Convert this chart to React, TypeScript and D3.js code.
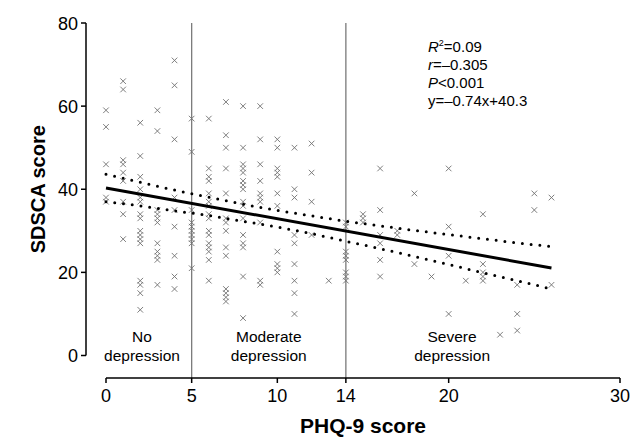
import React from "react";
import * as d3 from "d3";

const phqScores = [0, 1, 2, 3, 4, 5, 6, 7, 8, 9, 10, 11, 12, 13, 14, 15, 16, 17, 18, 19, 20, 21, 22, 23, 24, 25, 26];
const sdscaByPhq: number[][] = [
  [59, 55, 46, 38, 37],
  [66, 64, 47, 46, 44, 42, 37, 34, 28],
  [56, 48, 43, 40, 38, 37, 34, 33, 30, 29, 28, 27, 18, 17, 15, 11],
  [59, 54, 35, 34, 33, 32, 27, 25, 24, 23, 17],
  [71, 65, 52, 38, 35, 31, 24, 19, 16],
  [57, 49, 35, 32, 31, 30, 29, 28, 27, 21],
  [57, 45, 43, 42, 39, 37, 36, 34, 33, 30, 29, 27, 26, 25, 23, 18],
  [61, 53, 50, 45, 39, 33, 32, 30, 26, 24, 16, 15, 14, 13],
  [60, 50, 46, 45, 44, 42, 41, 40, 37, 36, 33, 29, 27, 26, 19, 9],
  [60, 52, 46, 42, 39, 38, 37, 32, 18, 17],
  [52, 50, 45, 44, 43, 39, 36, 25, 22, 21, 20],
  [50, 40, 38, 29, 27, 22, 18, 15, 10],
  [51, 44, 37, 29],
  [18],
  [32, 31, 25, 24, 23, 20, 19, 18],
  [34, 33, 32],
  [45, 35, 29, 27, 23, 19],
  [30, 29],
  [39, 22],
  [19],
  [45, 31, 24, 10],
  [18],
  [34, 22, 20, 19, 18],
  [5],
  [17, 10, 6],
  [39, 35],
  [38, 17],
];

// regression y = -0.74x + 40.3
const slope = -0.74;
const intercept = 40.3;
const fitRange = [0, 26];

// 95% confidence band
const ciX = [0, 2, 4, 6, 8, 10, 12, 14, 16, 18, 20, 22, 24, 26];
const ciUpper = [43.6, 41.7, 39.8, 38.1, 36.4, 34.9, 33.6, 32.3, 31.2, 30.1, 29.1, 28.1, 27.1, 26.2];
const ciLower = [37.0, 36.0, 34.8, 33.7, 32.3, 30.9, 29.3, 27.5, 25.7, 23.8, 21.9, 19.9, 18.0, 16.0];

const xTicks = [0, 5, 10, 14, 20, 30];
const yTicks = [0, 20, 40, 60, 80];
const cutoffs = [5, 14];
const groupLabels = [
  { x: 2.1, lines: ["No", "depression"] },
  { x: 9.5, lines: ["Moderate", "depression"] },
  { x: 20.2, lines: ["Severe", "depression"] },
];
const statR2 = "=0.09";
const statRValue = "=\u20130.305";
const statP = "<0.001";
const statEquation = "y=\u20130.74x+40.3";

export default function App() {
  const W = 640, H = 441;
  const x = d3.scaleLinear().domain([0, 30]).range([106, 620]);
  const y = d3.scaleLinear().domain([0, 80]).range([355.5, 23]);
  const axisY = 378;
  const yAxisX = 86;
  const font = "Arial, 'Liberation Sans', Helvetica, sans-serif";

  const pts: { px: number; py: number }[] = [];
  phqScores.forEach((p, i) => {
    sdscaByPhq[i].forEach((s) => pts.push({ px: x(p), py: y(s) }));
  });

  const line = d3.line<[number, number]>().x((d) => x(d[0])).y((d) => y(d[1])).curve(d3.curveMonotoneX);
  const fit: [number, number][] = fitRange.map((v) => [v, slope * v + intercept]);
  const up: [number, number][] = ciX.map((v, i) => [v, ciUpper[i]]);
  const lo: [number, number][] = ciX.map((v, i) => [v, ciLower[i]]);
  const m = 2.8;

  return (
    <svg width={W} height={H} style={{ position: "absolute", left: 0, top: 0, background: "#fff" }} fontFamily={font}>
      {cutoffs.map((c) => (
        <line key={c} x1={x(c)} x2={x(c)} y1={y(80)} y2={axisY} stroke="#7a7a7a" strokeWidth={1.3} />
      ))}
      {pts.map((d, i) => (
        <path
          key={i}
          d={`M${d.px - m},${d.py - m}L${d.px + m},${d.py + m}M${d.px - m},${d.py + m}L${d.px + m},${d.py - m}`}
          stroke="#707070"
          strokeWidth={0.9}
          fill="none"
        />
      ))}
      <path d={line(up) || ""} fill="none" stroke="#000" strokeWidth={3} strokeLinecap="round" strokeDasharray="0,8.8" />
      <path d={line(lo) || ""} fill="none" stroke="#000" strokeWidth={3} strokeLinecap="round" strokeDasharray="0,8.8" />
      <path d={line(fit) || ""} fill="none" stroke="#000" strokeWidth={3} />

      <line x1={yAxisX} x2={yAxisX} y1={y(80)} y2={y(0)} stroke="#000" strokeWidth={1.5} />
      {yTicks.map((t) => (
        <g key={t}>
          <line x1={yAxisX - 5} x2={yAxisX} y1={y(t)} y2={y(t)} stroke="#000" strokeWidth={1.5} />
          <text x={yAxisX - 8} y={y(t) + 6.5} textAnchor="end" fontSize={18} fill="#000">
            {t}
          </text>
        </g>
      ))}
      <line x1={x(0)} x2={x(30)} y1={axisY} y2={axisY} stroke="#000" strokeWidth={1.5} />
      {xTicks.map((t) => (
        <g key={t}>
          <line x1={x(t)} x2={x(t)} y1={axisY} y2={axisY + 5} stroke="#000" strokeWidth={1.5} />
          <text x={x(t)} y={axisY + 24} textAnchor="middle" fontSize={18} fill="#000">
            {t}
          </text>
        </g>
      ))}
      {groupLabels.map((g) => (
        <text key={g.x} x={x(g.x)} textAnchor="middle" fontSize={15.5} fill="#000">
          <tspan x={x(g.x)} y={342}>{g.lines[0]}</tspan>
          <tspan x={x(g.x)} y={361}>{g.lines[1]}</tspan>
        </text>
      ))}
      <g fontSize={15} fill="#000">
        <text x={428} y={52}>
          <tspan fontStyle="italic">R</tspan>
          <tspan fontSize={9} dy={-6}>2</tspan>
          <tspan dy={6}>{statR2}</tspan>
        </text>
        <text x={428} y={70}>
          <tspan fontStyle="italic">r</tspan>
          <tspan>{statRValue}</tspan>
        </text>
        <text x={428} y={88}>
          <tspan fontStyle="italic">P</tspan>
          <tspan>{statP}</tspan>
        </text>
        <text x={428} y={106}>{statEquation}</text>
      </g>
      <text x={(x(0) + x(30)) / 2} y={433} textAnchor="middle" fontSize={21} fontWeight="bold" fill="#000">
        PHQ-9 score
      </text>
      <text transform={`translate(45,${(y(0) + y(80)) / 2}) rotate(-90)`} textAnchor="middle" fontSize={20} fontWeight="bold" fill="#000">
        SDSCA score
      </text>
    </svg>
  );
}
